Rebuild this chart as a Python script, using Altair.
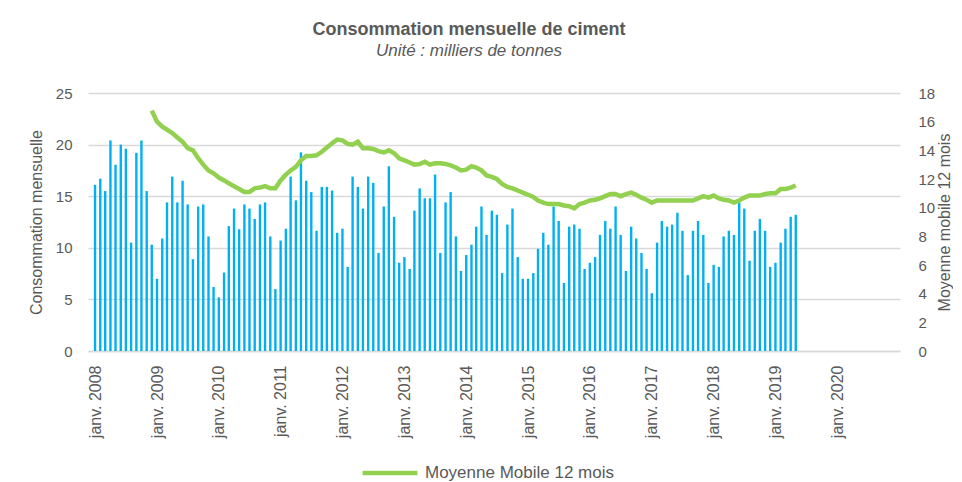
import altair as alt
import pandas as pd

# Monthly cement consumption (thousand tonnes), Jan 2008 - May 2019
conso_2008 = [16.1, 16.7, 15.5, 20.4, 18.05, 20.0, 19.6, 10.5, 19.2, 20.4, 15.5, 10.3]
conso_2009 = [7.0, 10.9, 14.4, 16.9, 14.4, 16.5, 14.2, 8.9, 14.0, 14.2, 11.1, 6.2]
conso_2010 = [5.2, 7.6, 12.1, 13.8, 11.8, 14.2, 13.8, 12.8, 14.2, 14.4, 11.1, 6.0]
conso_2011 = [10.7, 11.85, 16.9, 14.6, 19.25, 16.5, 15.4, 11.65, 15.9, 15.9, 15.55, 11.45]
conso_2012 = [11.85, 8.15, 16.9, 15.9, 13.8, 16.9, 16.3, 9.5, 14.0, 17.9, 13.0, 8.55]
conso_2013 = [9.1, 7.95, 13.6, 15.75, 14.8, 14.8, 17.1, 9.5, 14.4, 15.4, 11.1, 7.75]
conso_2014 = [9.3, 10.3, 12.05, 14.0, 11.25, 13.6, 13.2, 7.55, 12.25, 13.8, 9.1, 7.0]
conso_2015 = [7.0, 7.55, 9.9, 11.45, 10.3, 14.0, 12.6, 6.6, 12.05, 12.25, 11.85, 7.95]
conso_2016 = [8.55, 9.1, 11.25, 12.6, 11.85, 14.0, 11.25, 7.75, 12.05, 10.9, 9.5, 7.95]
conso_2017 = [5.6, 10.5, 12.6, 12.05, 12.25, 13.4, 11.65, 7.35, 11.65, 12.6, 11.25, 6.6]
conso_2018 = [8.35, 8.15, 11.1, 11.65, 11.25, 14.4, 13.8, 8.75, 11.65, 12.8, 11.65, 8.15]
conso_2019 = [8.55, 10.5, 11.85, 13.0, 13.2]

# 12-month moving average, Dec 2008 - May 2019
mm_2008 = [16.77]
mm_2009 = [16.0, 15.65, 15.45, 15.2, 14.9, 14.6, 14.15, 14.0, 13.45, 13.0, 12.6, 12.4]
mm_2010 = [12.1, 11.9, 11.7, 11.5, 11.3, 11.1, 11.1, 11.35, 11.4, 11.5, 11.35, 11.35]
mm_2011 = [11.9, 12.3, 12.6, 12.85, 13.3, 13.6, 13.6, 13.65, 13.9, 14.2, 14.5, 14.75]
mm_2012 = [14.7, 14.45, 14.4, 14.6, 14.15, 14.15, 14.1, 13.95, 13.85, 14.0, 13.8, 13.45]
mm_2013 = [13.3, 13.15, 13.0, 13.05, 13.2, 13.0, 13.1, 13.1, 13.05, 12.95, 12.8, 12.6]
mm_2014 = [12.65, 12.9, 12.8, 12.6, 12.25, 12.15, 12.0, 11.65, 11.45, 11.35, 11.2, 11.05]
mm_2015 = [10.9, 10.75, 10.5, 10.35, 10.25, 10.25, 10.25, 10.15, 10.1, 9.95, 10.25, 10.35]
mm_2016 = [10.5, 10.55, 10.65, 10.8, 10.95, 10.95, 10.8, 10.95, 11.05, 10.9, 10.7, 10.55]
mm_2017 = [10.35, 10.5, 10.5, 10.5, 10.5, 10.5, 10.5, 10.5, 10.5, 10.65, 10.8, 10.7]
mm_2018 = [10.85, 10.65, 10.55, 10.5, 10.35, 10.5, 10.7, 10.85, 10.85, 10.85, 10.95, 11.0]
mm_2019 = [11.0, 11.3, 11.3, 11.4, 11.55]

years = list(range(2008, 2021))
serie_label = "Moyenne Mobile 12 mois"

conso = (conso_2008 + conso_2009 + conso_2010 + conso_2011 + conso_2012 + conso_2013
         + conso_2014 + conso_2015 + conso_2016 + conso_2017 + conso_2018 + conso_2019)
mm = (mm_2008 + mm_2009 + mm_2010 + mm_2011 + mm_2012 + mm_2013
      + mm_2014 + mm_2015 + mm_2016 + mm_2017 + mm_2018 + mm_2019)

months = pd.date_range("2008-01-01", periods=len(conso), freq="MS")
df_bars = pd.DataFrame({"date": months.strftime("%Y-%m-%d"), "conso": conso})
df_mm = pd.DataFrame({"date": months[len(conso) - len(mm):].strftime("%Y-%m-%d"),
                      "mm": mm, "serie": serie_label})

GREY = "#595959"
FONT = "Liberation Sans"

x_enc = alt.X(
    "date:T",
    scale=alt.Scale(
        type="utc",
        domain=[alt.DateTime(year=2007, month=12, date=20, utc=True),
                alt.DateTime(year=2020, month=12, date=7, utc=True)],
    ),
    axis=alt.Axis(
        title=None,
        values=[alt.DateTime(year=y, month=1, date=1, utc=True) for y in years],
        labelExpr="'janv. ' + utcFormat(datum.value, '%Y')",
        labelAngle=270,
        labelPadding=14,
        ticks=False,
        grid=False,
        domainColor="#d9d9d9",
        domainWidth=1.5,
        labelFontSize=16,
    ),
)

bars = alt.Chart(df_bars).mark_bar(size=2.4, color="#00B0F0").encode(
    x=x_enc,
    y=alt.Y(
        "conso:Q",
        scale=alt.Scale(domain=[0, 25]),
        axis=alt.Axis(
            title="Consommation mensuelle",
            values=[0, 5, 10, 15, 20, 25],
            grid=True,
            gridColor="#d9d9d9",
            gridWidth=1.5,
            domain=False,
            ticks=False,
            labelPadding=16,
            titlePadding=11,
            labelFontSize=15,
            titleFontSize=16,
        ),
    ),
)

line = alt.Chart(df_mm).mark_line(strokeWidth=4.5).encode(
    x=x_enc,
    y=alt.Y(
        "mm:Q",
        scale=alt.Scale(domain=[0, 18]),
        axis=alt.Axis(
            title="Moyenne mobile 12 mois",
            orient="right",
            values=list(range(0, 19, 2)),
            grid=False,
            domain=False,
            ticks=False,
            labelPadding=18,
            titlePadding=18,
            titleAngle=270,
            labelFontSize=15,
            titleFontSize=16,
        ),
    ),
    color=alt.Color(
        "serie:N",
        scale=alt.Scale(range=["#92D050"]),
        legend=alt.Legend(
            title=None,
            orient="none",
            legendX=272,
            legendY=350,
            direction="horizontal",
            symbolType="stroke",
            symbolStrokeWidth=4.5,
            symbolSize=3000,
            labelFontSize=17,
            labelColor=GREY,
            labelFont=FONT,
            labelOffset=5,
            labelLimit=400,
        ),
    ),
)

chart = (
    alt.layer(bars, line)
    .resolve_scale(y="independent")
    .properties(
        width=812,
        height=258,
        padding={"left": 20, "top": 13, "right": 0, "bottom": 0},
        title=alt.TitleParams(
            text="Consommation mensuelle de ciment",
            subtitle="Unité : milliers de tonnes",
            fontSize=18,
            fontWeight="bold",
            color=GREY,
            font=FONT,
            subtitleFont=FONT,
            subtitleFontSize=17,
            subtitleFontStyle="italic",
            subtitleColor=GREY,
            subtitlePadding=4,
            anchor="middle",
            dx=-25,
            offset=27,
        ),
    )
    .configure_view(stroke=None)
    .configure_axis(
        labelColor=GREY,
        titleColor=GREY,
        labelFont=FONT,
        titleFont=FONT,
        titleFontWeight="normal",
    )
)

chart.save("out.html", embed_options={"renderer": "svg", "actions": False})
